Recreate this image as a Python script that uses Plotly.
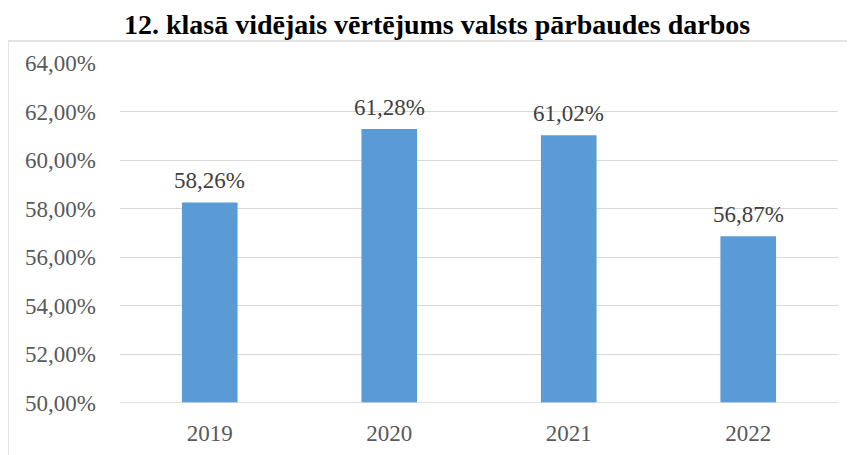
import plotly.graph_objects as go

years = ["2019", "2020", "2021", "2022"]
scores = [58.26, 61.28, 61.02, 56.87]
title_text = "12. klasā vidējais vērtējums valsts pārbaudes darbos"

# page body has an 8px default margin: figure coords = page coords - 8
OFF = 8
W, H = 855, 455
L, R = 120 - OFF, 17 + OFF
T = 63 - OFF
B = H - (403 - OFF)
pw, ph = W - L - R, H - T - B

def fmt(v):
    return f"{v:.2f}%".replace(".", ",")

fig = go.Figure(go.Bar(
    x=years, y=scores,
    marker=dict(color="#5b9bd5", line=dict(width=0)),
    hoverinfo="x+y",
))

annotations = [dict(x=i, y=y, xref="x", yref="y", text=fmt(y), showarrow=False,
                    yanchor="bottom", xanchor="center", yshift=7,
                    font=dict(family="Liberation Serif", size=23, color="#404040"))
               for i, y in enumerate(scores)]

annotations.append(dict(text="<b>" + title_text + "</b>", xref="paper", yref="paper",
                        x=(437 - OFF - L) / pw, y=1 + (T + 1) / ph,
                        xanchor="center", yanchor="top", showarrow=False,
                        font=dict(family="Liberation Serif", size=28, color="black")))

fig.update_layout(
    width=W, height=H,
    margin=dict(l=L, r=R, t=T, b=B),
    paper_bgcolor="white", plot_bgcolor="white",
    separators=", ",
    bargap=0.69,
    showlegend=False,
    font=dict(family="Liberation Serif", size=23, color="#595959"),
    xaxis=dict(type="category", range=[-0.5, len(years) - 0.5], showgrid=False,
               showline=False, ticks="", ticklabelstandoff=14,
               tickfont=dict(size=23, color="#595959")),
    yaxis=dict(range=[50, 64], dtick=2, tickformat=".2f", ticksuffix="%",
               showgrid=True, gridcolor="#d9d9d9", gridwidth=1.3,
               zeroline=False, showline=False, ticks="", ticklabelstandoff=23,
               tickfont=dict(size=23, color="#595959")),
    shapes=[dict(type="rect", xref="paper", yref="paper",
                 x0=(8 - OFF - L) / pw, x1=(W + 20 - L) / pw,
                 y0=-(B + 20) / ph, y1=1 + (T - 33) / ph,
                 line=dict(color="#d9d9d9", width=1.3), fillcolor="rgba(0,0,0,0)",
                 layer="below"),
            dict(type="line", xref="paper", yref="y", x0=0, x1=1, y0=50, y1=50,
                 line=dict(color="#d9d9d9", width=1.3))],
    annotations=annotations,
)

fig.write_html("out.html")
